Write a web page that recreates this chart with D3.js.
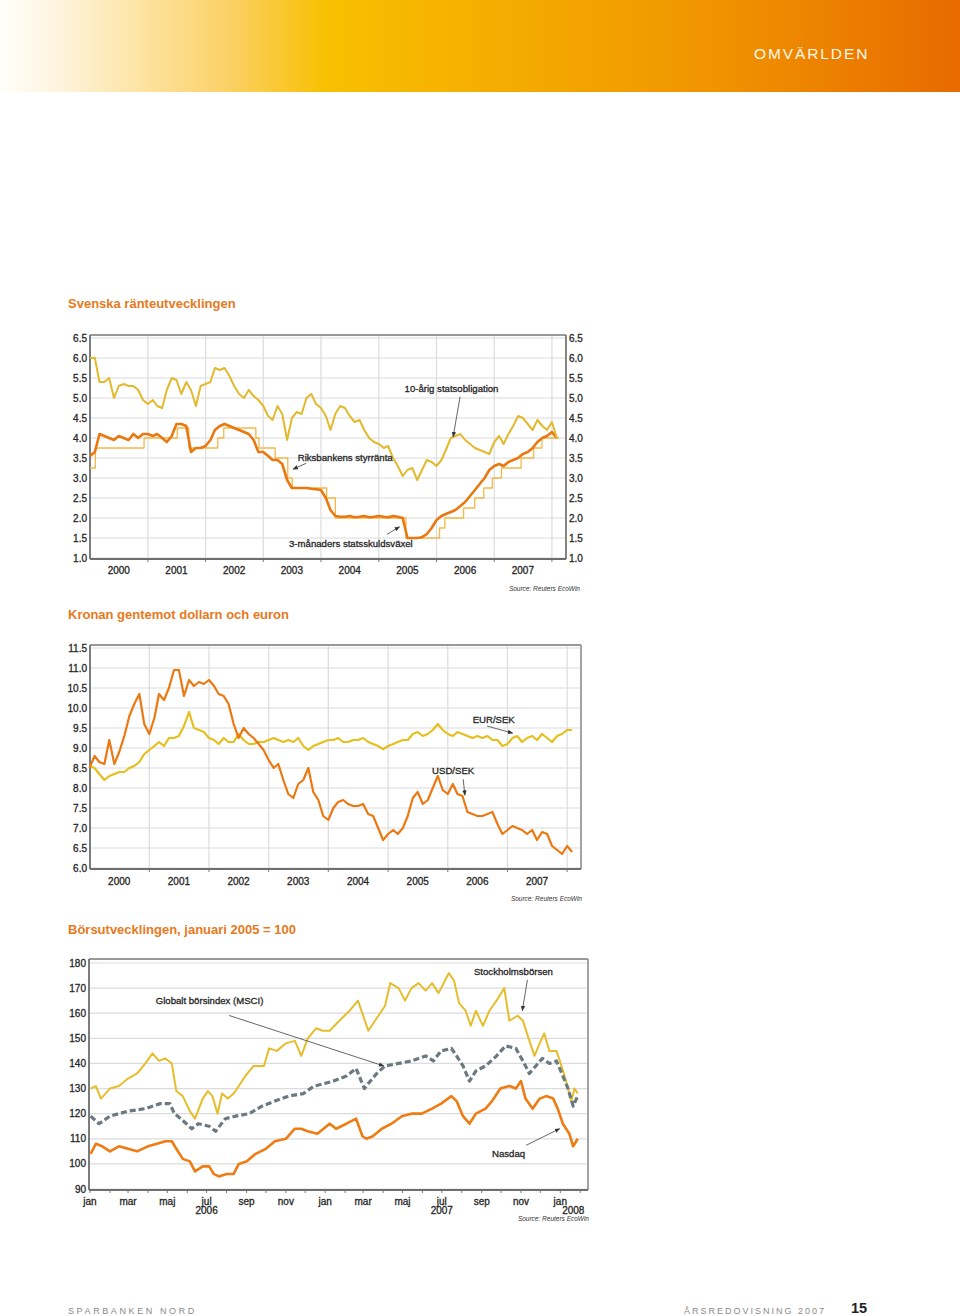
<!DOCTYPE html>
<html lang="sv">
<head>
<meta charset="utf-8">
<script src="https://cdn.jsdelivr.net/npm/d3@7"></script>
<style>
  html, body { margin: 0; padding: 0; background: #fff; overflow: hidden; }
  svg { display: block; font-family: "Liberation Sans", Arial, sans-serif; }
  .lbl { fill: #262626; stroke: #262626; stroke-width: 0.3px; }
</style>
</head>
<body>
<svg id="page" width="960" height="1316"></svg>
<script>
// ---------- data: Svenska ränteutvecklingen (monthly, jan 2000 - feb 2008) ----------
var bond10y = [
  6.0, 6.0, 5.4, 5.4, 5.5, 5.0, 5.3, 5.35, 5.3, 5.3, 5.2, 4.95,
  4.85, 4.95, 4.8, 4.75, 5.2, 5.5, 5.45, 5.1, 5.4, 5.2, 4.8, 5.3,
  5.35, 5.4, 5.75, 5.7, 5.75, 5.55, 5.3, 5.1, 5.0, 5.2, 5.05, 4.95,
  4.8, 4.55, 4.45, 4.8, 4.6, 3.95, 4.5, 4.65, 4.6, 5.0, 5.1, 4.85,
  4.75, 4.55, 4.2, 4.6, 4.8, 4.75, 4.55, 4.4, 4.45, 4.2, 4.0, 3.9,
  3.85, 3.75, 3.8, 3.5, 3.3, 3.05, 3.2, 3.25, 2.95, 3.2, 3.45, 3.4,
  3.3, 3.45, 3.7, 4.0, 4.05, 4.1, 3.95, 3.85, 3.75, 3.7, 3.65, 3.6,
  3.9, 4.05, 3.85, 4.1, 4.3, 4.55, 4.5, 4.35, 4.2, 4.45, 4.3, 4.2,
  4.4, 4.0
];
var tbill3m = [
  3.55, 3.65, 4.1, 4.05, 4.0, 3.95, 4.05, 4.0, 3.95, 4.1, 4.0, 4.1,
  4.1, 4.05, 4.1, 4.0, 3.9, 4.05, 4.35, 4.35, 4.3, 3.65, 3.75, 3.75,
  3.8, 3.95, 4.2, 4.3, 4.35, 4.3, 4.25, 4.2, 4.15, 4.1, 3.95, 3.65,
  3.65, 3.55, 3.45, 3.45, 3.35, 2.95, 2.75, 2.75, 2.75, 2.75, 2.73, 2.72,
  2.7, 2.5, 2.2, 2.05, 2.03, 2.03, 2.05, 2.02, 2.03, 2.05, 2.02, 2.03,
  2.05, 2.03, 2.02, 2.05, 2.03, 2.0, 1.5, 1.5, 1.5, 1.52, 1.6, 1.75,
  1.95, 2.05, 2.1, 2.15, 2.2, 2.3, 2.4, 2.55, 2.7, 2.85, 3.0, 3.2,
  3.3, 3.35, 3.3, 3.4, 3.45, 3.5, 3.6, 3.65, 3.75, 3.9, 4.0, 4.05,
  4.15, 4.0
];
// Riksbankens styrränta: dates of change and new level
var repoSteps = [
  ["2000-01-01", 3.25], ["2000-02-04", 3.75], ["2000-12-08", 4.0], ["2001-07-06", 4.25],
  ["2001-09-17", 3.75], ["2002-03-19", 4.0], ["2002-04-26", 4.25], ["2002-11-15", 4.0],
  ["2002-12-05", 3.75], ["2003-03-17", 3.5], ["2003-06-05", 3.0], ["2003-07-04", 2.75],
  ["2004-02-06", 2.5], ["2004-04-01", 2.0], ["2005-06-21", 1.5], ["2006-01-20", 1.75],
  ["2006-02-23", 2.0], ["2006-06-21", 2.25], ["2006-08-31", 2.5], ["2006-10-27", 2.75],
  ["2006-12-20", 3.0], ["2007-02-16", 3.25], ["2007-06-20", 3.5], ["2007-09-07", 3.75],
  ["2007-10-30", 4.0], ["2008-02-15", 4.0]
];
var rateTicks = [1.0, 1.5, 2.0, 2.5, 3.0, 3.5, 4.0, 4.5, 5.0, 5.5, 6.0, 6.5];
var yearLabels = ["2000", "2001", "2002", "2003", "2004", "2005", "2006", "2007"];
var rateNotes = [
  { text: "10-årig statsobligation", at: ["2005-06-13", 5.15], from: ["2006-05-30", 5.03], to: ["2006-04-16", 4.03] },
  { text: "Riksbankens styrränta", at: ["2003-08-07", 3.42], from: ["2003-10-01", 3.37], to: ["2003-07-08", 3.22] },
  { text: "3-månaders statsskuldsväxel", at: ["2003-06-13", 1.27], from: ["2005-02-21", 1.59], to: ["2005-05-12", 1.78] }
];

// ---------- data: Kronan gentemot dollarn och euron (monthly, jan 2000 - feb 2008) ----------
var usdSek = [
  8.5, 8.8, 8.65, 8.6, 9.2, 8.6, 8.9, 9.3, 9.8, 10.1, 10.35, 9.6,
  9.35, 9.75, 10.35, 10.2, 10.5, 10.95, 10.95, 10.3, 10.7, 10.55, 10.65, 10.6,
  10.7, 10.55, 10.35, 10.3, 10.1, 9.6, 9.25, 9.5, 9.35, 9.25, 9.1, 8.95,
  8.7, 8.5, 8.6, 8.2, 7.85, 7.75, 8.1, 8.2, 8.5, 7.9, 7.7, 7.3,
  7.2, 7.5, 7.65, 7.7, 7.6, 7.55, 7.55, 7.6, 7.35, 7.3, 7.0, 6.7,
  6.85, 6.95, 6.85, 7.0, 7.3, 7.75, 7.9, 7.6, 7.7, 8.0, 8.3, 7.95,
  7.85, 8.1, 7.85, 7.8, 7.4, 7.35, 7.3, 7.3, 7.35, 7.4, 7.1, 6.85,
  6.95, 7.05, 7.0, 6.95, 6.85, 6.95, 6.7, 6.9, 6.85, 6.55, 6.45, 6.35,
  6.55, 6.4
];
var eurSek = [
  8.55, 8.5, 8.35, 8.2, 8.3, 8.35, 8.4, 8.4, 8.5, 8.55, 8.65, 8.85,
  8.95, 9.05, 9.15, 9.05, 9.25, 9.25, 9.3, 9.55, 9.9, 9.5, 9.45, 9.4,
  9.25, 9.2, 9.1, 9.25, 9.15, 9.15, 9.35, 9.2, 9.1, 9.1, 9.15, 9.15,
  9.2, 9.25, 9.2, 9.15, 9.2, 9.15, 9.25, 9.05, 8.95, 9.05, 9.1, 9.15,
  9.2, 9.2, 9.25, 9.15, 9.15, 9.2, 9.2, 9.25, 9.15, 9.1, 9.05, 8.97,
  9.05, 9.1, 9.15, 9.2, 9.2, 9.35, 9.4, 9.3, 9.35, 9.45, 9.6, 9.45,
  9.35, 9.3, 9.4, 9.35, 9.3, 9.25, 9.3, 9.25, 9.3, 9.2, 9.2, 9.05,
  9.1, 9.25, 9.3, 9.15, 9.25, 9.3, 9.2, 9.35, 9.25, 9.15, 9.3, 9.35,
  9.45, 9.45
];
var fxTicks = [6.0, 6.5, 7.0, 7.5, 8.0, 8.5, 9.0, 9.5, 10.0, 10.5, 11.0, 11.5];
var fxNotes = [
  { text: "EUR/SEK", at: ["2006-06-02", 9.62], from: ["2006-08-29", 9.55], to: ["2007-02-02", 9.37] },
  { text: "USD/SEK", at: ["2005-09-27", 8.35], from: ["2006-04-05", 8.22], to: ["2006-04-16", 7.82] }
];

// ---------- data: Börsutvecklingen ----------
var stockholm = [
  ["2006-01-02", 130], ["2006-01-10", 131], ["2006-01-18", 126], ["2006-02-01", 130], ["2006-02-15", 131],
  ["2006-03-01", 134], ["2006-03-15", 136], ["2006-03-28", 140], ["2006-04-08", 144], ["2006-04-18", 141],
  ["2006-04-28", 142], ["2006-05-08", 140], ["2006-05-15", 129], ["2006-05-25", 127], ["2006-06-05", 121],
  ["2006-06-13", 118], ["2006-06-25", 126], ["2006-07-03", 129], ["2006-07-10", 127], ["2006-07-18", 120],
  ["2006-07-25", 128], ["2006-08-03", 126], ["2006-08-12", 128], ["2006-08-20", 131], ["2006-08-30", 135],
  ["2006-09-12", 139], ["2006-09-28", 139], ["2006-10-06", 146], ["2006-10-18", 145], ["2006-11-01", 148],
  ["2006-11-15", 149], ["2006-11-25", 143], ["2006-12-05", 150], ["2006-12-18", 154], ["2006-12-28", 153],
  ["2007-01-08", 153], ["2007-01-23", 157], ["2007-02-08", 161], ["2007-02-21", 165], ["2007-03-09", 153],
  ["2007-03-22", 158], ["2007-04-04", 163], ["2007-04-12", 172], ["2007-04-25", 170], ["2007-05-05", 165],
  ["2007-05-15", 170], ["2007-05-26", 172], ["2007-06-06", 169], ["2007-06-16", 172], ["2007-06-26", 168],
  ["2007-07-12", 176], ["2007-07-20", 173], ["2007-07-28", 164], ["2007-08-07", 161], ["2007-08-15", 155],
  ["2007-08-23", 161], ["2007-09-03", 155], ["2007-09-13", 161], ["2007-09-24", 165], ["2007-10-06", 170],
  ["2007-10-14", 157], ["2007-10-27", 159], ["2007-11-04", 157], ["2007-11-14", 149], ["2007-11-22", 143],
  ["2007-11-30", 148], ["2007-12-07", 152], ["2007-12-15", 145], ["2007-12-26", 145], ["2008-01-03", 139],
  ["2008-01-11", 132], ["2008-01-18", 125], ["2008-01-23", 130], ["2008-01-28", 128]
];
var msciWorld = [
  ["2006-01-02", 119], ["2006-01-15", 116], ["2006-02-01", 119], ["2006-03-01", 121], ["2006-03-28", 122],
  ["2006-04-20", 124], ["2006-05-05", 124], ["2006-05-12", 120], ["2006-05-22", 118], ["2006-06-08", 114],
  ["2006-06-18", 116], ["2006-07-05", 115], ["2006-07-15", 113], ["2006-07-30", 118], ["2006-08-15", 119],
  ["2006-09-05", 120], ["2006-09-25", 123], ["2006-10-15", 125], ["2006-11-05", 127], ["2006-11-28", 128],
  ["2006-12-15", 131], ["2006-12-31", 132], ["2007-01-14", 133], ["2007-02-03", 135], ["2007-02-18", 138],
  ["2007-02-26", 133], ["2007-03-03", 130], ["2007-03-09", 132], ["2007-03-22", 136], ["2007-04-04", 139],
  ["2007-04-25", 140], ["2007-05-15", 141], ["2007-06-06", 143], ["2007-06-18", 141], ["2007-06-30", 145],
  ["2007-07-16", 146], ["2007-07-24", 143], ["2007-08-03", 139], ["2007-08-13", 133], ["2007-08-23", 137],
  ["2007-09-07", 139], ["2007-09-24", 143], ["2007-10-08", 147], ["2007-10-24", 146], ["2007-11-04", 141],
  ["2007-11-14", 136], ["2007-11-24", 139], ["2007-12-04", 142], ["2007-12-15", 140], ["2007-12-26", 141],
  ["2008-01-05", 135], ["2008-01-13", 130], ["2008-01-21", 123], ["2008-01-28", 127]
];
var nasdaq = [
  ["2006-01-02", 104], ["2006-01-10", 108], ["2006-01-20", 107], ["2006-02-01", 105], ["2006-02-15", 107],
  ["2006-03-01", 106], ["2006-03-15", 105], ["2006-04-01", 107], ["2006-04-15", 108], ["2006-04-28", 109],
  ["2006-05-08", 109], ["2006-05-15", 106], ["2006-05-25", 102], ["2006-06-05", 101], ["2006-06-13", 97],
  ["2006-06-25", 99], ["2006-07-05", 99], ["2006-07-12", 96], ["2006-07-20", 95], ["2006-08-01", 96],
  ["2006-08-12", 96], ["2006-08-20", 100], ["2006-09-01", 101], ["2006-09-15", 104], ["2006-10-01", 106],
  ["2006-10-15", 109], ["2006-11-01", 110], ["2006-11-15", 114], ["2006-11-25", 114], ["2006-12-05", 113],
  ["2006-12-20", 112], ["2007-01-08", 116], ["2007-01-18", 114], ["2007-02-03", 116], ["2007-02-18", 118],
  ["2007-02-28", 111], ["2007-03-06", 110], ["2007-03-16", 111], ["2007-03-30", 114], ["2007-04-14", 116],
  ["2007-04-30", 119], ["2007-05-15", 120], ["2007-05-31", 120], ["2007-06-16", 122], ["2007-06-30", 124],
  ["2007-07-16", 127], ["2007-07-24", 125], ["2007-08-03", 119], ["2007-08-13", 116], ["2007-08-23", 120],
  ["2007-09-07", 122], ["2007-09-17", 125], ["2007-09-30", 130], ["2007-10-14", 131], ["2007-10-24", 130],
  ["2007-11-01", 133], ["2007-11-08", 126], ["2007-11-19", 122], ["2007-11-30", 126], ["2007-12-10", 127],
  ["2007-12-21", 126], ["2007-12-28", 122], ["2008-01-05", 116], ["2008-01-15", 112], ["2008-01-21", 107],
  ["2008-01-28", 110]
];
var indexTicks = [90, 100, 110, 120, 130, 140, 150, 160, 170, 180];
var monthLabels = ["jan", "mar", "maj", "jul", "sep", "nov", "jan", "mar", "maj", "jul", "sep", "nov", "jan"];
var indexYears = [["2006-07-01", "2006"], ["2007-07-01", "2007"], ["2008-01-01", "2008"]];
var stockNotes = [
  { text: "Stockholmsbörsen", at: ["2007-08-20", 175.3], from: ["2007-11-11", 173.3], to: ["2007-11-03", 161] },
  { text: "Globalt börsindex (MSCI)", at: ["2006-04-13", 163.8], from: ["2006-08-05", 159.1], to: ["2007-04-02", 139] },
  { text: "Nasdaq", at: ["2007-09-17", 102.9], from: ["2007-11-09", 107.4], to: ["2007-12-31", 114] }
];

// ---------- setup ----------
var parseDay = d3.timeParse("%Y-%m-%d");
var months = d3.timeMonth.range(new Date(2000, 0, 1), new Date(2008, 2, 1)); // jan 2000 .. feb 2008
var svg = d3.select("#page");
var defs = svg.append("defs");

var orange = "#e8791c";

// header band
var grad = defs.append("linearGradient").attr("id", "hdr");
[[0, "#fffefa"], [0.06, "#fef4de"], [0.15, "#fde3a0"], [0.24, "#fbd065"], [0.34, "#f8c000"],
 [0.55, "#f4a900"], [0.75, "#f09300"], [1, "#e86a00"]].forEach(function(s) {
  grad.append("stop").attr("offset", s[0]).attr("stop-color", s[1]);
});
svg.append("rect").attr("x", 0).attr("y", 0).attr("width", 960).attr("height", 92).attr("fill", "url(#hdr)");
svg.append("text").attr("x", 754).attr("y", 59)
  .attr("font-size", 15.5).attr("letter-spacing", 1.9).attr("fill", "#fff8ea")
  .text("OMVÄRLDEN");

// arrow head
defs.append("marker").attr("id", "arrow")
  .attr("viewBox", "0 0 10 10").attr("refX", 9).attr("refY", 5)
  .attr("markerWidth", 6).attr("markerHeight", 6).attr("orient", "auto")
  .append("path").attr("d", "M0,1 L10,5 L0,9 z").attr("fill", "#333");

function title(y, text) {
  svg.append("text").attr("x", 68).attr("y", y)
    .attr("font-size", 13).attr("font-weight", "bold").attr("fill", orange).text(text);
}

// gridlines, frame and value labels for one chart
function panel(o) {
  var g = svg.append("g");
  g.selectAll(null).data(o.yTicks).enter().append("line")
    .attr("x1", o.left).attr("x2", o.right)
    .attr("y1", function(d) { return o.y(d); }).attr("y2", function(d) { return o.y(d); })
    .attr("stroke", "#dcdcdc").attr("stroke-width", 1.2);
  if (o.vGrid) {
    g.selectAll(null).data(o.vGrid).enter().append("line")
      .attr("x1", function(d) { return o.x(d); }).attr("x2", function(d) { return o.x(d); })
      .attr("y1", o.top).attr("y2", o.bottom)
      .attr("stroke", "#dcdcdc").attr("stroke-width", 1.2);
  }
  if (o.xTicks) {
    g.selectAll(null).data(o.xTicks).enter().append("line")
      .attr("x1", function(d) { return o.x(d); }).attr("x2", function(d) { return o.x(d); })
      .attr("y1", o.bottom).attr("y2", o.bottom + 3)
      .attr("stroke", "#777").attr("stroke-width", 1);
  }
  g.append("line").attr("x1", o.left).attr("x2", o.right).attr("y1", o.top).attr("y2", o.top)
    .attr("stroke", "#999").attr("stroke-width", 1.8);
  g.append("line").attr("x1", o.right).attr("x2", o.right).attr("y1", o.top).attr("y2", o.bottom)
    .attr("stroke", o.rightLabels ? "#777" : "#999").attr("stroke-width", 1.8);
  g.append("line").attr("x1", o.left).attr("x2", o.left).attr("y1", o.top).attr("y2", o.bottom)
    .attr("stroke", "#6e6e6e").attr("stroke-width", 1.8);
  g.append("line").attr("x1", o.left).attr("x2", o.right).attr("y1", o.bottom).attr("y2", o.bottom)
    .attr("stroke", "#6e6e6e").attr("stroke-width", 1.8);

  g.selectAll(null).data(o.yTicks).enter().append("text")
    .attr("class", "lbl")
    .attr("x", o.left - 3).attr("y", function(d) { return o.y(d); }).attr("dy", "0.35em")
    .attr("text-anchor", "end").attr("font-size", 10)
    .text(o.fmt);
  if (o.rightLabels) {
    g.selectAll(null).data(o.yTicks).enter().append("text")
      .attr("class", "lbl")
      .attr("x", o.right + 3).attr("y", function(d) { return o.y(d); }).attr("dy", "0.35em")
      .attr("font-size", 10)
      .text(o.fmt);
  }
  return g;
}

function source(x, y) {
  svg.append("text").attr("x", x).attr("y", y).attr("text-anchor", "end")
    .attr("font-size", 6.5).attr("font-style", "italic").attr("fill", "#333")
    .text("Source: Reuters EcoWin");
}

function notes(list, x, y) {
  list.forEach(function(n) {
    svg.append("text").attr("class", "lbl")
      .attr("x", x(parseDay(n.at[0]))).attr("y", y(n.at[1]))
      .attr("font-size", 9.6).text(n.text);
    svg.append("line")
      .attr("x1", x(parseDay(n.from[0]))).attr("y1", y(n.from[1]))
      .attr("x2", x(parseDay(n.to[0]))).attr("y2", y(n.to[1]))
      .attr("stroke", "#555").attr("stroke-width", 0.9)
      .attr("marker-end", "url(#arrow)");
  });
}

function plot(pts, x, y, color, width, curve, dash) {
  var line = d3.line()
    .x(function(d) { return x(d[0]); })
    .y(function(d) { return y(d[1]); })
    .curve(curve || d3.curveLinear);
  var p = svg.append("path").datum(pts).attr("d", line)
    .attr("fill", "none").attr("stroke", color).attr("stroke-width", width)
    .attr("stroke-linejoin", "round");
  if (dash) p.attr("stroke-dasharray", dash);
  return p;
}

function monthly(values) {
  return values.map(function(v, i) { return [months[i], v]; });
}
function dated(pairs) {
  return pairs.map(function(d) { return [parseDay(d[0]), d[1]]; });
}
var yearStarts = function(a, b) {
  return d3.timeYear.range(new Date(a, 0, 1), new Date(b, 0, 2));
};

// ---------- chart 1: Svenska ränteutvecklingen ----------
title(308, "Svenska ränteutvecklingen");
var x1 = d3.scaleTime().domain([new Date(2000, 0, 1), new Date(2008, 2, 30)]).range([90, 566]);
var y1 = d3.scaleLinear().domain([1, 6.5]).range([558, 338]);
panel({ x: x1, y: y1, left: 90, right: 566, top: 335, bottom: 559,
  yTicks: rateTicks, fmt: d3.format(".1f"), rightLabels: true,
  vGrid: yearStarts(2001, 2008), xTicks: yearStarts(2001, 2008) });
svg.selectAll(null).data(yearLabels).enter().append("text").attr("class", "lbl")
  .attr("x", function(d) { return x1(new Date(+d, 6, 1)); }).attr("y", 574)
  .attr("text-anchor", "middle").attr("font-size", 10).text(function(d) { return d; });
source(580, 591);

plot(dated(repoSteps), x1, y1, "#f3b84a", 1.3, d3.curveStepAfter);
plot(monthly(tbill3m), x1, y1, "#e8780f", 2.6);
plot(monthly(bond10y), x1, y1, "#e3b92e", 2.0);
notes(rateNotes, x1, y1);

// ---------- chart 2: Kronan gentemot dollarn och euron ----------
title(619, "Kronan gentemot dollarn och euron");
var x2 = d3.scaleTime().domain([new Date(2000, 0, 1), new Date(2008, 2, 26)]).range([89.5, 581]);
var y2 = d3.scaleLinear().domain([6, 11.5]).range([868, 648]);
panel({ x: x2, y: y2, left: 90, right: 581, top: 645, bottom: 869,
  yTicks: fxTicks, fmt: d3.format(".1f"),
  vGrid: yearStarts(2001, 2008), xTicks: yearStarts(2001, 2008) });
svg.selectAll(null).data(yearLabels).enter().append("text").attr("class", "lbl")
  .attr("x", function(d) { return x2(new Date(+d, 6, 1)); }).attr("y", 885)
  .attr("text-anchor", "middle").attr("font-size", 10).text(function(d) { return d; });
source(582, 901);

plot(monthly(eurSek), x2, y2, "#e6bf1c", 2.2);
plot(monthly(usdSek), x2, y2, "#ec7812", 2.2);
notes(fxNotes, x2, y2);

// ---------- chart 3: Börsutvecklingen ----------
title(934, "Börsutvecklingen, januari 2005 = 100");
var x3 = d3.scaleTime().domain([new Date(2006, 0, 1), new Date(2008, 1, 13)]).range([90, 588]);
var y3 = d3.scaleLinear().domain([90, 180]).range([1189, 963]);
var monthTicks = d3.timeMonth.range(new Date(2006, 0, 1), new Date(2008, 1, 2));
panel({ x: x3, y: y3, left: 89, right: 588, top: 959, bottom: 1190,
  yTicks: indexTicks, fmt: d3.format("d"), xTicks: monthTicks });
svg.selectAll(null).data(monthLabels).enter().append("text").attr("class", "lbl")
  .attr("x", function(d, i) { return x3(new Date(2006, i * 2, 1)); }).attr("y", 1205)
  .attr("text-anchor", "middle").attr("font-size", 10).text(function(d) { return d; });
svg.selectAll(null).data(indexYears).enter().append("text").attr("class", "lbl")
  .attr("x", function(d) { return x3(parseDay(d[0])) + (d[1] === "2008" ? 13 : 0); }).attr("y", 1214)
  .attr("text-anchor", "middle").attr("font-size", 10).text(function(d) { return d[1]; });
source(589, 1221);

plot(dated(stockholm), x3, y3, "#e6bd2c", 2.0);
plot(dated(nasdaq), x3, y3, "#ee7c12", 2.6);
plot(dated(msciWorld), x3, y3, "#6d7980", 3.2, null, "6,3");
notes(stockNotes, x3, y3);

// ---------- footer ----------
svg.append("text").attr("x", 68).attr("y", 1314).attr("font-size", 9)
  .attr("letter-spacing", 2.6).attr("fill", "#8a8a8a").text("SPARBANKEN NORD");
svg.append("text").attr("x", 684).attr("y", 1314).attr("font-size", 9)
  .attr("letter-spacing", 2).attr("fill", "#8a8a8a").text("ÅRSREDOVISNING 2007");
svg.append("text").attr("x", 851).attr("y", 1313).attr("font-size", 14.5)
  .attr("font-weight", "bold").attr("fill", "#222").text("15");
</script>
</body>
</html>
